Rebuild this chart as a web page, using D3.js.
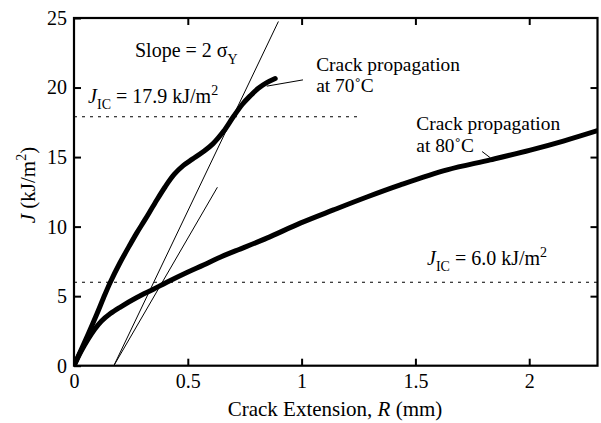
<!DOCTYPE html>
<html>
<head>
<meta charset="utf-8">
<script src="https://cdn.jsdelivr.net/npm/d3@7"></script>
<style>
  html, body { margin: 0; padding: 0; background: #fff; }
  svg { display: block; }
</style>
</head>
<body>
<script>
// J–R resistance curves for crack propagation at two temperatures
const rExt70 = [0, 0.03, 0.063, 0.1, 0.129, 0.158, 0.202, 0.246, 0.276, 0.312, 0.356, 0.4, 0.44, 0.481, 0.52, 0.569, 0.61, 0.657, 0.70, 0.74, 0.774, 0.81, 0.847, 0.884];
const j70    = [0, 1.1, 2.3, 3.7, 4.85, 5.95, 7.4, 8.7, 9.55, 10.5, 11.7, 12.85, 13.75, 14.4, 14.85, 15.4, 15.95, 16.85, 17.9, 18.8, 19.4, 19.95, 20.35, 20.65];

const rExt80 = [0, 0.03, 0.06, 0.09, 0.12, 0.16, 0.202, 0.276, 0.349, 0.408, 0.496, 0.569, 0.642, 0.701, 0.847, 0.994, 1.14, 1.287, 1.434, 1.639, 1.829, 2.005, 2.15, 2.3];
const j80    = [0, 1.0, 1.85, 2.6, 3.2, 3.75, 4.2, 4.9, 5.5, 6.0, 6.7, 7.24, 7.8, 8.2, 9.17, 10.25, 11.2, 12.13, 13.0, 14.08, 14.8, 15.5, 16.15, 16.9];

// Blunting lines (slope = 2 sigma_Y), given by their end points
const bluntLines = [
  { r: [0.175, 0.898], j: [0, 24.75] },
  { r: [0.175, 0.630], j: [0, 12.83] }
];

// Critical J values
const jicValues = [17.9, 6.0];
const jicEnds   = [1.25, 2.3];

// Axis ticks
const xTicks = [0, 0.5, 1, 1.5, 2];
const yTicks = [0, 5, 10, 15, 20, 25];

const SERIF = "'Liberation Serif'";

const W = 601, H = 423;
const margin = { top: 18, right: 3.5, bottom: 57.3, left: 74 };
const iw = W - margin.left - margin.right;
const ih = H - margin.top - margin.bottom;

const svg = d3.select("body").append("svg").attr("width", W).attr("height", H);
const g = svg.append("g").attr("transform", `translate(${margin.left},${margin.top})`);

const x = d3.scaleLinear().domain([0, 2.3]).range([0, iw]);
const y = d3.scaleLinear().domain([0, 25]).range([ih, 0]);

const FS = 20;

// Axes with inward ticks
const fmtX = d => (d === 0 ? "0" : String(d));
const gx = g.append("g").attr("transform", `translate(0,${ih})`)
  .call(d3.axisBottom(x).tickValues(xTicks).tickSize(-7).tickPadding(8).tickFormat(fmtX));
const gy = g.append("g")
  .call(d3.axisLeft(y).tickValues(yTicks).tickSize(-7).tickPadding(7).tickFormat(d3.format("d")));
const gt = g.append("g")
  .call(d3.axisTop(x).tickValues(xTicks.slice(1)).tickSize(-7).tickFormat(""));
const gr = g.append("g").attr("transform", `translate(${iw},0)`)
  .call(d3.axisRight(y).tickValues(yTicks.slice(1, -1)).tickSize(-7).tickFormat(""));

[gx, gy, gt, gr].forEach(a => {
  a.select(".domain").remove();
  a.attr("font-family", null).attr("font-size", null);
  a.selectAll(".tick line").attr("stroke", "#000").attr("stroke-width", 2);
  a.selectAll(".tick text").attr("font-size", FS).attr("fill", "#000");
});

// Frame
g.append("rect").attr("x", 0).attr("y", 0).attr("width", iw).attr("height", ih)
  .attr("fill", "none").attr("stroke", "#000").attr("stroke-width", 2.2);

// Clip for marks
svg.append("defs").append("clipPath").attr("id", "plot")
  .append("rect").attr("width", iw).attr("height", ih);
const marks = g.append("g").attr("clip-path", "url(#plot)");

// Dashed J_IC levels
jicValues.forEach((v, i) => {
  marks.append("line")
    .attr("x1", x(0)).attr("x2", x(jicEnds[i]))
    .attr("y1", y(v)).attr("y2", y(v))
    .attr("stroke", "#000").attr("stroke-width", 1.1)
    .attr("stroke-dasharray", "3,5");
});

// Blunting lines
bluntLines.forEach(b => {
  marks.append("line")
    .attr("x1", x(b.r[0])).attr("y1", y(b.j[0]))
    .attr("x2", x(b.r[1])).attr("y2", y(b.j[1]))
    .attr("stroke", "#000").attr("stroke-width", 1);
});

// Resistance curves
const line = d3.line().x(d => x(d[0])).y(d => y(d[1])).curve(d3.curveCatmullRom.alpha(0.5));
[[rExt70, j70], [rExt80, j80]].forEach(([rs, js]) => {
  marks.append("path")
    .datum(rs.map((r, i) => [r, js[i]]))
    .attr("d", line)
    .attr("fill", "none").attr("stroke", "#000")
    .attr("stroke-width", 5).attr("stroke-linejoin", "round").attr("stroke-linecap", "round");
});

// Leader lines from curves to their labels
const leaders = [
  { r: [0.847, 1.006], j: [20.1, 20.55] },
  { r: [1.793, 1.829], j: [15.4, 14.95] }
];
leaders.forEach(l => {
  g.append("line")
    .attr("x1", x(l.r[0])).attr("y1", y(l.j[0]))
    .attr("x2", x(l.r[1])).attr("y2", y(l.j[1]))
    .attr("stroke", "#000").attr("stroke-width", 1);
});

// Annotation helpers
function jicLabel(r, j, value) {
  const t = g.append("text").attr("x", x(r)).attr("y", y(j)).attr("font-size", FS);
  t.append("tspan").attr("font-style", "italic").text("J");
  t.append("tspan").attr("font-size", 14).attr("dy", 6).text("IC");
  t.append("tspan").attr("dy", -6).text(` = ${value} kJ/m`);
  t.append("tspan").attr("font-size", 14).attr("dy", -8).text("2");
}
jicLabel(0.062, 18.9, "17.9");
jicLabel(1.551, 7.24, "6.0");

// Slope annotation
{
  const t = g.append("text").attr("x", x(0.268)).attr("y", y(22.17)).attr("font-size", FS);
  t.append("tspan").text("Slope = 2 σ");
  t.append("tspan").attr("font-size", 14).attr("dy", 7).text("Y");
}

// Curve labels, two lines each
function twoLine(r, j1, j2, a, b) {
  const t = g.append("text").attr("x", x(r)).attr("y", y(j1)).attr("font-size", 19.4);
  t.append("tspan").attr("x", x(r)).text(a);
  t.append("tspan").attr("x", x(r)).attr("dy", y(j2) - y(j1)).text(b);
}
twoLine(1.064, 21.2, 19.7, "Crack propagation", "at 70˚C");
twoLine(1.504, 16.93, 15.4, "Crack propagation", "at 80˚C");

// Axis titles
{
  const t = svg.append("text").attr("x", 335).attr("y", 416)
    .attr("text-anchor", "middle").attr("font-size", 21);
  t.append("tspan").text("Crack Extension, ");
  t.append("tspan").attr("font-style", "italic").text("R");
  t.append("tspan").text(" (mm)");
}
{
  const t = svg.append("text").attr("transform", "rotate(-90)")
    .attr("x", -185).attr("y", 35).attr("text-anchor", "middle").attr("font-size", 21);
  t.append("tspan").attr("font-style", "italic").text("J");
  t.append("tspan").text(" (kJ/m");
  t.append("tspan").attr("font-size", 14).attr("dy", -9).text("2");
  t.append("tspan").attr("dy", 9).text(")");
}

// Serif face for every label
svg.selectAll("text, tspan").style("font-family", SERIF).style("fill", "#000");
</script>
</body>
</html>
